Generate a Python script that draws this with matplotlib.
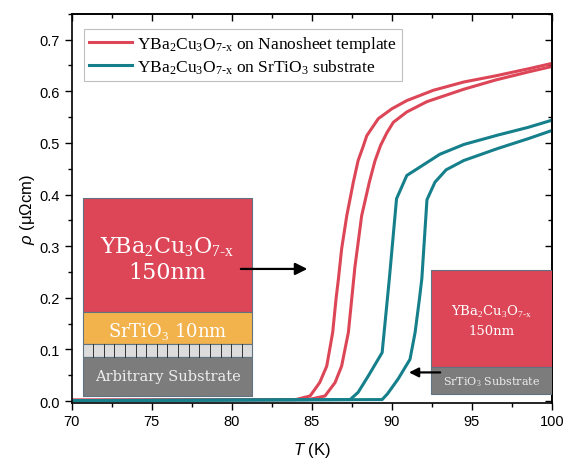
import numpy as np
import matplotlib
matplotlib.use("Agg")
import matplotlib.pyplot as plt
from matplotlib.patches import Rectangle
from matplotlib.ticker import MultipleLocator, FormatStrFormatter, NullFormatter

plt.rcParams['font.family'] = ['Liberation Sans', 'DejaVu Sans']
plt.rcParams['mathtext.fontset'] = 'custom'
plt.rcParams['mathtext.rm'] = 'Liberation Serif'
plt.rcParams['mathtext.it'] = 'Liberation Sans:italic'

T_ns1 = [70, 84.0, 84.9, 85.5, 85.94, 86.31, 86.52, 86.67, 86.87, 87.19, 87.6, 87.9, 88.19, 88.44,
         89.16, 90.0, 90.94, 92.6, 94.5, 96.5, 98.6, 100]
rho_ns1 = [0.002, 0.003, 0.010, 0.036, 0.068, 0.133, 0.198, 0.237, 0.295, 0.359, 0.424, 0.466, 0.491, 0.514,
           0.547, 0.566, 0.582, 0.602, 0.618, 0.630, 0.644, 0.654]

T_ns2 = [70, 84.8, 85.83, 86.46, 86.87, 87.29, 87.5, 87.7, 87.85, 88.12, 88.6, 88.95, 89.3, 89.7,
         90.1, 90.94, 92.2, 94.5, 96.5, 98.6, 100]
rho_ns2 = [0.002, 0.003, 0.010, 0.036, 0.068, 0.133, 0.198, 0.26, 0.295, 0.359, 0.424, 0.465, 0.495, 0.52,
           0.540, 0.560, 0.580, 0.604, 0.622, 0.638, 0.648]

T_sto1 = [70, 87.4, 87.9, 88.54, 89.4, 89.85, 90.3, 90.94, 92.4, 93.0, 94.5, 96.6, 98.5, 100]
rho_sto1 = [0.001, 0.003, 0.017, 0.049, 0.094, 0.237, 0.392, 0.437, 0.466, 0.478, 0.497, 0.515, 0.530, 0.544]

T_sto2 = [70, 89.4, 89.73, 90.4, 91.14, 91.46, 91.73, 91.88, 92.2, 92.7, 93.4, 94.5, 96.6, 98.5, 100]
rho_sto2 = [0.001, 0.003, 0.014, 0.043, 0.081, 0.133, 0.198, 0.237, 0.39, 0.424, 0.448, 0.466, 0.489, 0.508, 0.524]

ROJO = '#dc4657'
TEAL = '#15808b'
YBCO = r'YBa$_2$Cu$_3$O$_{\mathrm{7\text{-}x}}$'

fig = plt.figure(figsize=(5.73, 4.64), dpi=100)
ax = fig.add_axes([0.125, 0.130, 0.838, 0.838])

ax.plot(T_ns1, rho_ns1, color=ROJO, lw=2.2, label=YBCO + ' on Nanosheet template')
ax.plot(T_ns2, rho_ns2, color=ROJO, lw=2.2)
ax.plot(T_sto1, rho_sto1, color=TEAL, lw=2.2, label=YBCO + ' on SrTiO$_3$ substrate')
ax.plot(T_sto2, rho_sto2, color=TEAL, lw=2.2)

ax.set_xlim(70, 100)
ax.set_ylim(-0.003, 0.75)
ax.xaxis.set_major_locator(MultipleLocator(5))
ax.xaxis.set_minor_locator(MultipleLocator(2.5))
ax.yaxis.set_major_locator(MultipleLocator(0.1))
ax.yaxis.set_minor_locator(MultipleLocator(0.05))
ax.yaxis.set_major_formatter(FormatStrFormatter('%.1f'))
ax.tick_params(which='both', direction='out', labelsize=10.5, width=1.0)
ax.tick_params(which='major', length=5)
ax.tick_params(which='minor', length=3)
for s in ax.spines.values():
    s.set_linewidth(1.2)

# ticks espejo hacia adentro arriba y a la derecha
top = ax.secondary_xaxis('top')
right = ax.secondary_yaxis('right')
for sec, axis in ((top, top.xaxis), (right, right.yaxis)):
    axis.set_major_locator(MultipleLocator(5 if sec is top else 0.1))
    axis.set_minor_locator(MultipleLocator(2.5 if sec is top else 0.05))
    axis.set_major_formatter(NullFormatter())
    sec.tick_params(which='both', direction='in', width=1.0)
    sec.tick_params(which='major', length=5)
    sec.tick_params(which='minor', length=3)
    for s in sec.spines.values():
        s.set_linewidth(1.2)

ax.set_xlabel(r'$T$ (K)', fontsize=12, labelpad=8)
ax.set_ylabel(r'$\rho$ (μΩcm)', fontsize=12, labelpad=2)

leg = ax.legend(loc='upper left', bbox_to_anchor=(0.014, 0.975), handlelength=2.5,
                prop={'family': 'Liberation Serif', 'size': 12.5},
                fancybox=False, edgecolor='#b0b0b0', borderpad=0.3,
                labelspacing=0.2, handletextpad=0.25, borderaxespad=0.3)
leg.get_frame().set_linewidth(0.8)

# esquema de capas (izquierda)
x0, x1 = 70.68, 81.3
capas = [
    (0.172, 0.393, ROJO),
    (0.1105, 0.172, '#f2b24c'),
    (0.0847, 0.1105, '#dcdcdc'),
    (0.0103, 0.0847, '#7c7c7c'),
]
for y0, y1, c in capas:
    ax.add_patch(Rectangle((x0, y0), x1 - x0, y1 - y0, facecolor=c,
                           edgecolor='#5f7480', lw=0.8, zorder=3))
for xl in np.linspace(x0, x1, 17)[1:-1]:
    ax.plot([xl, xl], [0.0847, 0.1105], color='#333333', lw=0.7, zorder=4)

xc = (x0 + x1) / 2
ax.text(xc, 0.300, YBCO, color='white', ha='center', va='center',
        family='DejaVu Serif', fontsize=16, zorder=5)
ax.text(xc, 0.250, '150nm', color='white', ha='center', va='center',
        family='DejaVu Serif', fontsize=16, zorder=5)
ax.text(xc, 0.137, 'SrTiO$_3$ 10nm', color='white', ha='center', va='center',
        family='DejaVu Serif', fontsize=13, zorder=5)
ax.text(xc, 0.048, 'Arbitrary Substrate', color='#eeeeee', ha='center', va='center',
        family='DejaVu Serif', fontsize=10.5, zorder=5)

ax.annotate('', xy=(84.9, 0.256), xytext=(80.4, 0.256),
            arrowprops=dict(arrowstyle='-|>', color='black', lw=1.6, mutation_scale=18), zorder=6)

# esquema de capas (derecha)
x2, x3 = 92.44, 100.0
ax.add_patch(Rectangle((x2, 0.0666), x3 - x2, 0.254 - 0.0666, facecolor=ROJO,
                       edgecolor='#5f7480', lw=0.8, zorder=3))
ax.add_patch(Rectangle((x2, 0.0136), x3 - x2, 0.0666 - 0.0136, facecolor='#7c7c7c',
                       edgecolor='#5f7480', lw=0.8, zorder=3))
xc2 = (x2 + x3) / 2
ax.text(xc2, 0.175, YBCO, color='white', ha='center', va='center',
        family='DejaVu Serif', fontsize=9.5, zorder=5)
ax.text(xc2, 0.136, '150nm', color='white', ha='center', va='center',
        family='DejaVu Serif', fontsize=9.5, zorder=5)
ax.text(xc2, 0.039, 'SrTiO$_3$ Substrate', color='#eeeeee', ha='center', va='center',
        family='DejaVu Serif', fontsize=8, zorder=5)

ax.annotate('', xy=(90.9, 0.0556), xytext=(93.2, 0.0556),
            arrowprops=dict(arrowstyle='-|>', color='black', lw=1.6, mutation_scale=14), zorder=6)

fig.savefig('out.png', dpi=100)
